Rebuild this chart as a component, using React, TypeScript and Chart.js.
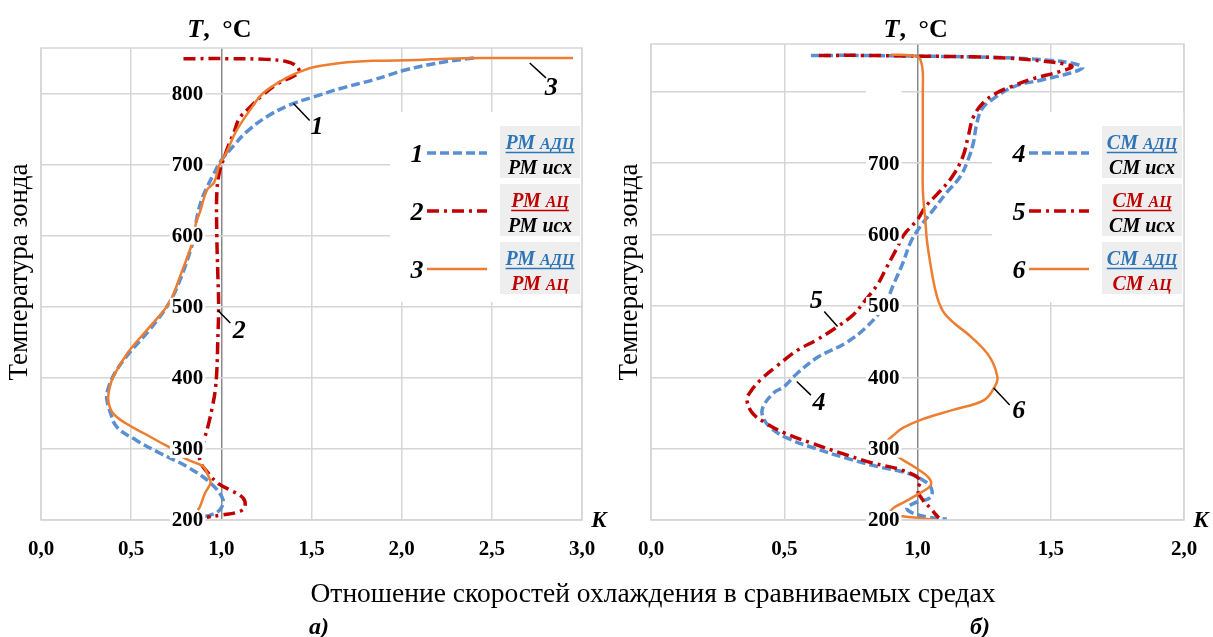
import React, { useEffect, useRef } from 'react';
import { Chart, registerables } from 'chart.js';
Chart.register(...registerables);

const FONT = "'Liberation Serif', 'Times New Roman', serif";
const BLUE = '#5a8fd1';
const RED = '#c00000';
const ORANGE = '#ed7d31';
const GRID = '#d6d6d6';
const AXIS = '#8a8a8a';
const TXT_BLUE = '#2e75b6';
const TXT_RED = '#c00000';

// ---------- Panel а): РМ ----------
// 1: РМ АДЦ / РМ исх
const tempA1 = [850, 845, 840, 833, 826, 819, 807, 795, 784, 767, 746, 727, 706, 683, 665, 650, 626, 600, 580, 537, 505, 467, 435, 407, 383, 370, 355, 331, 312, 294, 275, 252, 228, 214, 207, 204];
const kA1 = [2.40, 2.25, 2.14, 2.02, 1.93, 1.84, 1.66, 1.51, 1.38, 1.25, 1.14, 1.07, 1.00, 0.95, 0.915, 0.89, 0.865, 0.85, 0.83, 0.77, 0.71, 0.60, 0.49, 0.41, 0.37, 0.365, 0.38, 0.42, 0.53, 0.66, 0.81, 0.94, 1.01, 0.99, 0.94, 0.88];
// 2: РМ АЦ / РМ исх
const tempA2 = [849, 849, 848, 845, 838, 830, 823, 815, 798, 781, 765, 745, 727, 713, 690, 660, 600, 550, 500, 450, 410, 380, 359, 336, 308, 285, 265, 250, 242, 231, 218, 211, 207, 204];
const kA2 = [0.79, 1.05, 1.25, 1.36, 1.42, 1.43, 1.39, 1.32, 1.23, 1.16, 1.10, 1.07, 1.04, 1.02, 0.99, 0.975, 0.975, 0.98, 0.985, 0.98, 0.975, 0.965, 0.95, 0.93, 0.90, 0.88, 0.93, 0.99, 1.05, 1.12, 1.13, 1.09, 1.00, 0.92];
// 3: РМ АДЦ / РМ АЦ
const tempA3 = [850, 850, 850, 849, 847, 846, 843, 837, 830, 819, 800, 777, 746, 718, 700, 675, 664, 632, 619, 600, 583, 542, 505, 471, 435, 401, 379, 365, 350, 336, 322, 308, 301, 288, 282, 275, 261, 252, 238, 218, 214];
const kA3 = [2.95, 2.70, 2.45, 2.25, 2.08, 1.84, 1.66, 1.51, 1.43, 1.34, 1.23, 1.16, 1.08, 1.03, 0.99, 0.96, 0.92, 0.88, 0.86, 0.85, 0.83, 0.77, 0.71, 0.60, 0.48, 0.40, 0.375, 0.375, 0.40, 0.47, 0.57, 0.67, 0.72, 0.79, 0.84, 0.90, 0.93, 0.94, 0.91, 0.88, 0.87];

// ---------- Panel б): СМ ----------
// 4: СМ АДЦ / СМ исх
const tempB4 = [851, 851, 850, 849, 847, 844, 840, 834, 826, 817, 807, 789, 775, 751, 729, 705, 681, 659, 635, 611, 590, 560, 530, 500, 471, 448, 429, 406, 387, 378, 358, 344, 329, 315, 301, 287, 274, 266, 256, 246, 232, 224, 217, 210, 204, 201];
const kB4 = [0.60, 0.80, 1.00, 1.20, 1.38, 1.50, 1.58, 1.62, 1.57, 1.47, 1.36, 1.28, 1.24, 1.22, 1.21, 1.19, 1.16, 1.11, 1.06, 1.01, 0.975, 0.945, 0.91, 0.875, 0.81, 0.73, 0.63, 0.55, 0.50, 0.46, 0.42, 0.42, 0.45, 0.51, 0.61, 0.73, 0.86, 0.96, 1.02, 1.05, 1.05, 0.99, 0.96, 0.98, 1.04, 1.11];
// 5: СМ АЦ / СМ исх
const tempB5 = [851, 851, 850, 849, 847, 843, 839, 835, 828, 818, 807, 799, 786, 765, 737, 709, 681, 659, 639, 621, 600, 579, 551, 530, 506, 488, 471, 452, 438, 415, 396, 378, 368, 350, 336, 322, 308, 294, 280, 270, 256, 242, 228, 216, 207, 203];
const kB5 = [0.63, 0.80, 1.00, 1.20, 1.35, 1.47, 1.55, 1.58, 1.53, 1.43, 1.35, 1.30, 1.25, 1.21, 1.19, 1.17, 1.13, 1.08, 1.03, 1.00, 0.95, 0.92, 0.88, 0.85, 0.80, 0.76, 0.70, 0.62, 0.55, 0.47, 0.41, 0.37, 0.36, 0.38, 0.43, 0.50, 0.60, 0.71, 0.83, 0.94, 1.01, 1.00, 1.02, 1.05, 1.07, 1.08];
// 6: СМ АДЦ / СМ АЦ
const tempB6 = [852, 851, 848, 840, 827, 803, 757, 709, 663, 617, 593, 555, 525, 505, 490, 475, 457, 429, 400, 387, 368, 354, 340, 330, 322, 305, 288, 274, 260, 249, 238, 225, 217, 210, 206, 203, 200];
const kB6 = [0.90, 0.98, 1.005, 1.015, 1.02, 1.02, 1.02, 1.02, 1.02, 1.03, 1.035, 1.05, 1.065, 1.08, 1.10, 1.14, 1.20, 1.27, 1.30, 1.29, 1.25, 1.13, 1.01, 0.95, 0.92, 0.88, 0.93, 0.99, 1.04, 1.05, 1.01, 0.95, 0.91, 0.90, 0.93, 1.00, 1.07];

// ---------- ticks ----------
const kTicksA = ['0,0', '0,5', '1,0', '1,5', '2,0', '2,5', '3,0'];
const kTicksB = ['0,0', '0,5', '1,0', '1,5', '2,0'];
const tempTickValues = [200, 300, 400, 500, 600, 700, 800];
const tempTicksA = ['200', '300', '400', '500', '600', '700', '800'];
const tempTicksB = ['200', '300', '400', '500', '600', '700', ''];

const xTitle = 'Отношение скоростей охлаждения в сравниваемых средах';
const yTitle = 'Температура зонда';

type Seg = [string, number];
type LabelLine = { segs: Seg[]; color: string; underline: boolean };
type Style = { color: string; dash: number[]; width: number };
type LegendItem = { num: string; style: Style; lines: LabelLine[] };
type Note = { text: string; from: [number, number]; to: [number, number]; at: [number, number] };
type SeriesDef = { k: number[]; t: number[]; style: Style; order: number };
type PanelCfg = {
  series: SeriesDef[];
  xMax: number;
  yMax: number;
  xLabels: string[];
  yLabels: string[];
  legend: LegendItem[];
  notes: Note[];
  padding: { left: number; right: number; top: number; bottom: number };
};

const styleBlue: Style = { color: BLUE, dash: [9, 4], width: 3.5 };
const styleRed: Style = { color: RED, dash: [12, 5, 3, 5], width: 3.5 };
const styleOrange: Style = { color: ORANGE, dash: [], width: 2.5 };

const big = 20;
const small = 16;
function pair(m: string, blueTop: boolean, topSuffix: string, bottom: LabelLine): LabelLine[] {
  return [
    { segs: [[m + ' ', big], [topSuffix, small]], color: blueTop ? TXT_BLUE : TXT_RED, underline: true },
    bottom,
  ];
}
function legendFor(m: string): LegendItem[] {
  const isx: LabelLine = { segs: [[m + ' исх', big]], color: '#000', underline: false };
  const ac: LabelLine = { segs: [[m + ' ', big], ['АЦ', small]], color: TXT_RED, underline: false };
  const n = m === 'РМ' ? ['1', '2', '3'] : ['4', '5', '6'];
  return [
    { num: n[0], style: styleBlue, lines: pair(m, true, 'АДЦ', isx) },
    { num: n[1], style: styleRed, lines: pair(m, false, 'АЦ', isx) },
    { num: n[2], style: styleOrange, lines: pair(m, true, 'АДЦ', ac) },
  ];
}

const panelA: PanelCfg = {
  series: [
    { k: kA1, t: tempA1, style: styleBlue, order: 2 },
    { k: kA2, t: tempA2, style: styleRed, order: 1 },
    { k: kA3, t: tempA3, style: styleOrange, order: 0 },
  ],
  xMax: 3,
  yMax: 864,
  xLabels: kTicksA,
  yLabels: tempTicksA,
  legend: legendFor('РМ'),
  notes: [
    { text: '1', from: [1.40, 786], to: [1.49, 762], at: [1.53, 752] },
    { text: '3', from: [2.71, 843], to: [2.80, 822], at: [2.83, 808] },
    { text: '2', from: [0.98, 495], to: [1.05, 477], at: [1.10, 466] },
  ],
  padding: { left: 41, right: 28, top: 48, bottom: 117 },
};

const panelB: PanelCfg = {
  series: [
    { k: kB4, t: tempB4, style: styleBlue, order: 2 },
    { k: kB5, t: tempB5, style: styleRed, order: 1 },
    { k: kB6, t: tempB6, style: styleOrange, order: 0 },
  ],
  xMax: 2,
  yMax: 867,
  xLabels: kTicksB,
  yLabels: tempTicksB,
  legend: legendFor('СМ'),
  notes: [
    { text: '4', from: [0.547, 394], to: [0.60, 375], at: [0.63, 364] },
    { text: '5', from: [0.65, 492], to: [0.70, 471], at: [0.62, 507] },
    { text: '6', from: [1.286, 385], to: [1.346, 361], at: [1.38, 352] },
  ],
  padding: { left: 41, right: 29, top: 44, bottom: 117 },
};

const LEGEND_ROWS = [153, 211, 269];

function drawLabelLine(ctx: CanvasRenderingContext2D, line: LabelLine, cx: number, base: number, ul: number) {
  let total = 0;
  const widths = line.segs.map(([t, s]) => {
    ctx.font = `italic bold ${s}px ${FONT}`;
    const w = ctx.measureText(t).width;
    total += w;
    return w;
  });
  let x = cx - total / 2;
  ctx.fillStyle = line.color;
  ctx.textAlign = 'left';
  ctx.textBaseline = 'alphabetic';
  line.segs.forEach(([t, s], i) => {
    ctx.font = `italic bold ${s}px ${FONT}`;
    ctx.fillText(t, x, base);
    x += widths[i];
  });
  if (line.underline) {
    ctx.strokeStyle = line.color;
    ctx.lineWidth = 1.5;
    ctx.setLineDash([]);
    ctx.beginPath();
    ctx.moveTo(cx - total / 2, ul);
    ctx.lineTo(cx + total / 2, ul);
    ctx.stroke();
  }
}

function makeDecor(cfg: PanelCfg) {
  return {
    id: 'decor',
    afterDatasetsDraw(chart: any) {
      const ctx: CanvasRenderingContext2D = chart.ctx;
      const a = chart.chartArea;
      const xs = chart.scales.x;
      const ys = chart.scales.y;
      const ax = xs.getPixelForValue(1);
      ctx.save();

      // white legend area
      ctx.fillStyle = '#ffffff';
      ctx.fillRect(a.right - 192, 112, 192, 190);

      // plot border
      ctx.strokeStyle = GRID;
      ctx.lineWidth = 1.5;
      ctx.setLineDash([]);
      ctx.strokeRect(a.left, a.top, a.right - a.left, a.bottom - a.top);

      // legend items
      cfg.legend.forEach((it, i) => {
        const y = LEGEND_ROWS[i];
        const r = a.right;
        ctx.fillStyle = '#eeeeee';
        ctx.fillRect(r - 82, y - 27, 80, 52);
        ctx.font = `italic bold 26px ${FONT}`;
        ctx.fillStyle = '#000';
        ctx.textAlign = 'center';
        ctx.textBaseline = 'alphabetic';
        ctx.fillText(it.num, r - 165, y + 9);
        ctx.beginPath();
        ctx.setLineDash(it.style.dash);
        ctx.strokeStyle = it.style.color;
        ctx.lineWidth = it.style.width;
        ctx.moveTo(r - 155, y);
        ctx.lineTo(r - 95, y);
        ctx.stroke();
        ctx.setLineDash([]);
        drawLabelLine(ctx, it.lines[0], r - 42, y - 4, y - 0.5);
        drawLabelLine(ctx, it.lines[1], r - 42, y + 21, 0);
      });

      // temperature tick labels (white boxes over the curves)
      ctx.font = `bold 21px ${FONT}`;
      ctx.textBaseline = 'middle';
      ctx.textAlign = 'right';
      tempTickValues.forEach((v, i) => {
        const label = cfg.yLabels[i];
        const y = ys.getPixelForValue(v);
        const xr = ax - 18;
        const w = ctx.measureText(label || '800').width;
        ctx.fillStyle = '#ffffff';
        ctx.fillRect(xr - w - 2, y - 9, w + 4, 18);
        if (label) {
          ctx.fillStyle = '#000';
          ctx.fillText(label, xr, y + 1);
        }
      });

      // K tick labels
      ctx.textAlign = 'center';
      cfg.xLabels.forEach((lab, i) => {
        const x = xs.getPixelForValue(i * 0.5);
        ctx.fillStyle = '#000';
        ctx.fillText(lab, x, a.bottom + 30);
      });

      // K symbol
      ctx.font = `italic bold 23px ${FONT}`;
      ctx.fillText('K', a.right + 17, a.bottom + 1);

      // T, °C
      ctx.textAlign = 'left';
      ctx.textBaseline = 'alphabetic';
      ctx.font = `italic bold 26px ${FONT}`;
      ctx.fillText('T', ax - 34, 37);
      const tw = ctx.measureText('T').width;
      ctx.font = `bold 26px ${FONT}`;
      ctx.fillText(',', ax - 34 + tw, 37);
      ctx.fillText('°C', ax + 1, 37);

      // vertical title
      ctx.save();
      ctx.translate(a.left - 21, 272);
      ctx.rotate(-Math.PI / 2);
      ctx.font = `27px ${FONT}`;
      ctx.textAlign = 'center';
      ctx.textBaseline = 'middle';
      ctx.fillStyle = '#000';
      ctx.fillText(yTitle, 0, 0);
      ctx.restore();

      // curve annotations
      cfg.notes.forEach((n) => {
        ctx.strokeStyle = '#000';
        ctx.lineWidth = 1.5;
        ctx.beginPath();
        ctx.moveTo(xs.getPixelForValue(n.from[0]), ys.getPixelForValue(n.from[1]));
        ctx.lineTo(xs.getPixelForValue(n.to[0]), ys.getPixelForValue(n.to[1]));
        ctx.stroke();
        ctx.font = `italic bold 26px ${FONT}`;
        ctx.fillStyle = '#000';
        ctx.textAlign = 'center';
        ctx.textBaseline = 'middle';
        ctx.fillText(n.text, xs.getPixelForValue(n.at[0]), ys.getPixelForValue(n.at[1]));
      });

      ctx.restore();
    },
  };
}

function Panel({ cfg, left, width }: { cfg: PanelCfg; left: number; width: number }) {
  const ref = useRef<HTMLCanvasElement>(null);
  useEffect(() => {
    const canvas = ref.current!;
    const chart = new Chart(canvas, {
      type: 'scatter',
      data: {
        datasets: cfg.series.map((s) => ({
          data: s.k.map((k, i) => ({ x: k, y: s.t[i] })),
          showLine: true,
          borderColor: s.style.color,
          backgroundColor: s.style.color,
          borderWidth: s.style.width,
          borderDash: s.style.dash,
          borderCapStyle: 'butt',
          pointRadius: 0,
          tension: 0.38,
          fill: false,
          order: s.order,
        })),
      } as any,
      options: {
        responsive: false,
        animation: false,
        events: [],
        layout: { padding: cfg.padding },
        plugins: { legend: { display: false }, tooltip: { enabled: false } },
        scales: {
          x: {
            type: 'linear',
            min: 0,
            max: cfg.xMax,
            ticks: { stepSize: 0.5, display: false },
            grid: {
              drawTicks: false,
              color: (c: any) => (c.tick && Math.abs(c.tick.value - 1) < 1e-9 ? AXIS : GRID),
              lineWidth: 1.5,
            },
            border: { display: false },
            afterFit: (s: any) => {
              s.height = 0;
            },
          },
          y: {
            type: 'linear',
            min: 200,
            max: cfg.yMax,
            ticks: { stepSize: 100, display: false, includeBounds: false },
            grid: { drawTicks: false, color: GRID, lineWidth: 1.5 },
            border: { display: false },
            afterFit: (s: any) => {
              s.width = 0;
            },
          },
        },
      } as any,
      plugins: [makeDecor(cfg)],
    });
    return () => chart.destroy();
  }, []);
  return (
    <canvas
      ref={ref}
      width={width}
      height={637}
      style={{ position: 'absolute', left, top: 0, width, height: 637, display: 'block' }}
    />
  );
}

export default function App() {
  return (
    <div style={{ position: 'absolute', left: 0, top: 0, width: 1213, height: 637, background: '#fff', overflow: 'hidden' }}>
      <Panel cfg={panelA} left={0} width={610} />
      <Panel cfg={panelB} left={610} width={603} />
      <div
        style={{
          position: 'absolute',
          left: 653,
          top: 593,
          transform: 'translate(-50%, -50%)',
          font: `27.5px ${FONT}`,
          lineHeight: 1,
          whiteSpace: 'nowrap',
          color: '#000',
        }}
      >
        {xTitle}
      </div>
      <div
        style={{
          position: 'absolute',
          left: 319,
          top: 626,
          transform: 'translate(-50%, -50%)',
          font: `italic bold 24px ${FONT}`,
          lineHeight: 1,
          color: '#000',
        }}
      >
        а)
      </div>
      <div
        style={{
          position: 'absolute',
          left: 980,
          top: 626,
          transform: 'translate(-50%, -50%)',
          font: `italic bold 24px ${FONT}`,
          lineHeight: 1,
          color: '#000',
        }}
      >
        б)
      </div>
    </div>
  );
}
